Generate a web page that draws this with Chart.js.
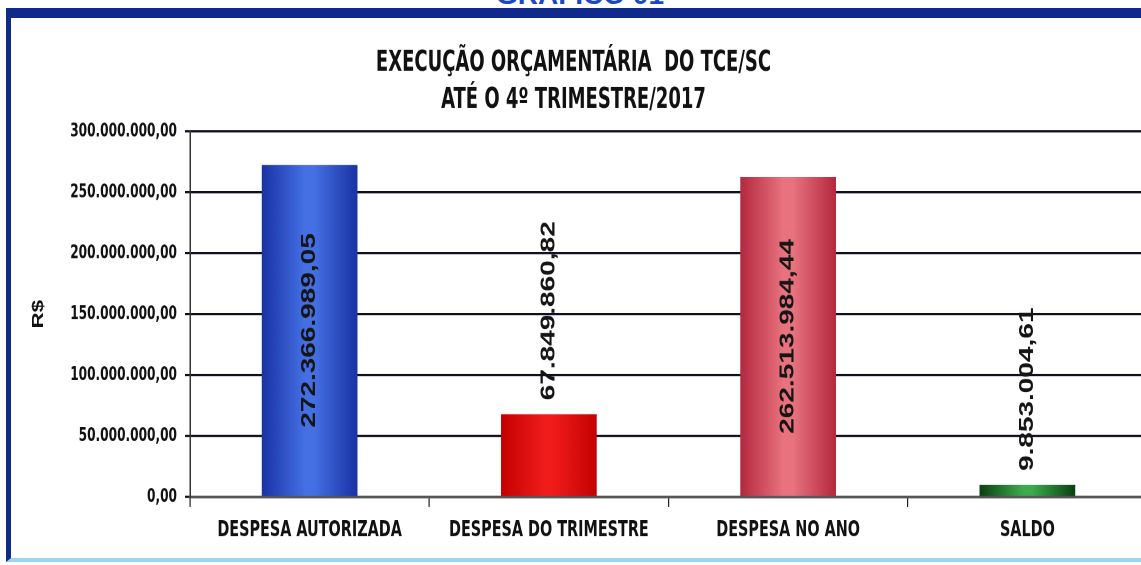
<!DOCTYPE html>
<html lang="pt-BR">
<head>
<meta charset="utf-8">
<title>Execução orçamentária do TCE/SC</title>
<script src="https://cdn.jsdelivr.net/npm/chart.js@4/dist/chart.umd.min.js"></script>
<style>
    html, body { margin: 0; padding: 0; background: #fff; overflow: hidden; width: 1141px; height: 565px; }
    #wrap { position: absolute; left: 0; top: 0; width: 1148px; height: 404px; transform: scaleY(1.4); transform-origin: 0 0; }
    #caption { position: absolute; top: -19px; left: 0; width: 1160px; text-align: center; font: bold 28px/28px "Liberation Sans", Arial, sans-serif; color: #1848c8; }
    #frame { position: absolute; left: 6px; top: 8px; width: 1200px; height: 554px; box-sizing: border-box;
             border-top: 10px solid #0f2a8a; border-left: 5px solid #0f2a8a; border-bottom: 4px solid #9fd3ef; pointer-events: none; }
</style>
</head>
<body>
<div id="caption">GRÁFICO 01</div>
<div id="wrap"><canvas id="chart" width="1148" height="404"></canvas></div>
<div id="frame"></div>
<script>
const categories = ["DESPESA AUTORIZADA", "DESPESA DO TRIMESTRE", "DESPESA NO ANO", "SALDO"];
const values = [272366989.05, 67849860.82, 262513984.44, 9853004.61];
const titleLines = ["EXECUÇÃO ORÇAMENTÁRIA  DO TCE/SC", "ATÉ O 4º TRIMESTRE/2017"];
const yMax = 300000000;
const yStep = 50000000;

const barEdge = ["#1a32a4", "#c40000", "#b4283e", "#0b3f12"];
const barMid = ["#4470e4", "#f01c1c", "#e8737f", "#3eaa4e"];

const NARROW = '"Liberation Sans Narrow", "Arial Narrow", "DejaVu Sans Condensed", sans-serif';
const REGULAR = '"Liberation Sans", Arial, sans-serif';

// 272366989.05 -> "272.366.989,05"
const fmt = (v) => {
    const [int, dec] = Number(v).toFixed(2).split(".");
    return int.replace(/\B(?=(\d{3})+(?!\d))/g, ".") + "," + dec;
};

const barFill = (c) => {
    const chart = c.chart;
    const i = c.dataIndex;
    const xs = chart.scales.x;
    if (!chart.chartArea || !xs || i === undefined) return barMid[i] || barMid[0];
    const cx = xs.getPixelForValue(i);
    const half = (xs.width / categories.length) * 0.4 / 2;
    const g = chart.ctx.createLinearGradient(cx - half, 0, cx + half, 0);
    g.addColorStop(0, barEdge[i]);
    g.addColorStop(0.45, barMid[i]);
    g.addColorStop(0.55, barMid[i]);
    g.addColorStop(1, barEdge[i]);
    return g;
};

const valueLabels = {
    id: "valueLabels",
    afterDatasetsDraw(chart) {
        const ctx = chart.ctx;
        const meta = chart.getDatasetMeta(0);
        ctx.save();
        ctx.font = "bold 20px " + REGULAR;
        ctx.fillStyle = "#151515";
        ctx.textBaseline = "middle";
        meta.data.forEach((bar, i) => {
            const txt = fmt(values[i]);
            const w = ctx.measureText(txt).width;
            const h = bar.base - bar.y;
            ctx.save();
            if (w + 20 < h) {
                ctx.translate(bar.x, (bar.y + bar.base) / 2);
                ctx.textAlign = "center";
            } else {
                ctx.translate(bar.x, bar.y - 10);
                ctx.textAlign = "left";
            }
            ctx.rotate(-Math.PI / 2);
            ctx.fillText(txt, 0, 0);
            ctx.restore();
        });
        ctx.restore();
    },
};

new Chart(document.getElementById("chart"), {
    type: "bar",
    data: {
        labels: categories,
        datasets: [{
            data: values,
            backgroundColor: barFill,
            borderWidth: 0,
            barPercentage: 0.4,
            categoryPercentage: 1.0,
        }],
    },
    options: {
        responsive: false,
        animation: false,
        devicePixelRatio: 2,
        layout: { padding: { left: 0, right: 1, top: 0, bottom: 0 } },
        plugins: {
            legend: { display: false },
            tooltip: { enabled: false },
            title: {
                display: true,
                text: titleLines,
                color: "#111",
                font: { family: NARROW, size: 20, weight: "bold", lineHeight: 1.32 },
                padding: { top: 32, bottom: 9 },
            },
        },
        scales: {
            x: {
                grid: { display: true, drawOnChartArea: false, drawTicks: true, tickLength: 7, color: "#222", lineWidth: 1.2, offset: true },
                border: { color: "#555", width: 2 },
                ticks: { color: "#111", font: { family: NARROW, size: 16, weight: "bold" }, padding: 7, maxRotation: 0, autoSkip: false },
                afterFit: (s) => { s.height = 49; },
            },
            y: {
                min: 0,
                max: yMax,
                ticks: { stepSize: yStep, callback: (v) => fmt(v), color: "#111", font: { family: NARROW, size: 13.5, weight: "bold" }, padding: 8 },
                grid: { color: "#101020", lineWidth: 1.6, tickLength: 5, drawTicks: true },
                border: { color: "#333", width: 1.5 },
                title: { display: true, text: "R$", color: "#111", font: { family: REGULAR, size: 16, weight: "bold" }, padding: { top: 29, bottom: 0 } },
                afterFit: (s) => { s.width = 190; },
            },
        },
    },
    plugins: [valueLabels],
});
</script>
</body>
</html>
